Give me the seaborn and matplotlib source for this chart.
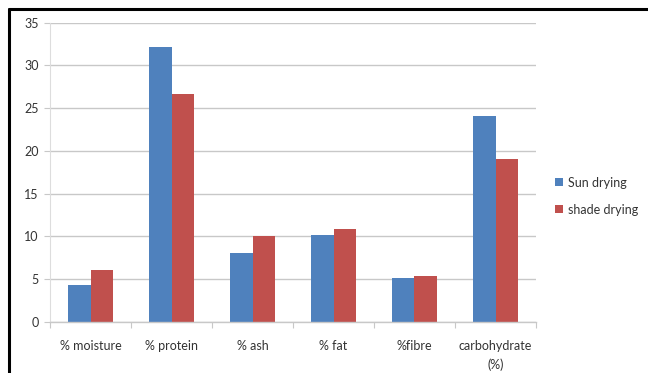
import matplotlib
matplotlib.use("Agg")
import matplotlib.pyplot as plt
import seaborn as sns
import pandas as pd
from matplotlib.lines import Line2D

categories = ["% moisture", "% protein", "% ash", "% fat", "%fibre", "carbohydrate\n(%)"]
sun_drying = [4.3, 32.1, 8.1, 10.2, 5.1, 24.1]
shade_drying = [6.0, 26.6, 10.0, 10.8, 5.3, 19.1]
series_names = ["Sun drying", "shade drying"]
colors = ["#4F81BD", "#C0504D"]

df = pd.DataFrame({
    "component": categories * 2,
    "value": sun_drying + shade_drying,
    "method": [series_names[0]] * len(categories) + [series_names[1]] * len(categories),
})

sns.set_theme(style="white")
plt.rcParams["font.family"] = ["Lato", "DejaVu Sans"]

fig = plt.figure(figsize=(6.48, 3.73), dpi=100)
ax = fig.add_axes([50 / 648, 1 - 321.7 / 373, (536 - 50) / 648, (321.7 - 22.7) / 373])

sns.barplot(data=df, x="component", y="value", hue="method", palette=colors,
            width=0.56, gap=0, saturation=1, linewidth=0, ax=ax, legend=True)

ax.set_ylim(0, 35)
ax.set_xlim(-0.5, len(categories) - 0.5)
ax.set_yticks(range(0, 36, 5))
ax.set_xlabel("")
ax.set_ylabel("")
ax.yaxis.grid(True, color="#C8C8C8", linewidth=1.0)
ax.set_axisbelow(True)

for side in ["top", "right"]:
    ax.spines[side].set_visible(False)
ax.spines["left"].set_color("#DDDDDD")
ax.spines["left"].set_linewidth(0.8)
ax.spines["bottom"].set_color("#C8C8C8")
ax.spines["bottom"].set_linewidth(1.0)

ax.tick_params(axis="y", length=4, width=0.8, color="#C8C8C8", pad=4,
               labelsize=9, labelcolor="#333333", left=True)
ax.tick_params(axis="x", which="major", length=0, pad=13, labelsize=9,
               labelcolor="#333333")
for lbl in ax.get_xticklabels():
    lbl.set_linespacing(1.6)
ax.set_xticks([i + 0.5 for i in range(-1, len(categories))], minor=True)
ax.tick_params(axis="x", which="minor", length=4, width=0.8, color="#C8C8C8",
               bottom=True)

handles, labels = ax.get_legend_handles_labels()
leg = ax.legend(handles, labels, loc="center left", bbox_to_anchor=(1.04, 0.42),
                frameon=False, fontsize=9, handlelength=0.6, handleheight=0.6,
                handletextpad=0.4, labelspacing=1.2, borderaxespad=0,
                borderpad=0)
for t in leg.get_texts():
    t.set_color("#333333")

# outer frame lines
fig.add_artist(Line2D([8.5 / 648, 1], [1 - 9 / 373, 1 - 9 / 373],
                      transform=fig.transFigure, color="black", linewidth=2.2))
fig.add_artist(Line2D([8.5 / 648, 8.5 / 648], [0, 1 - 9 / 373],
                      transform=fig.transFigure, color="black", linewidth=2.2))

fig.savefig("out.png", dpi=100, facecolor="white")
